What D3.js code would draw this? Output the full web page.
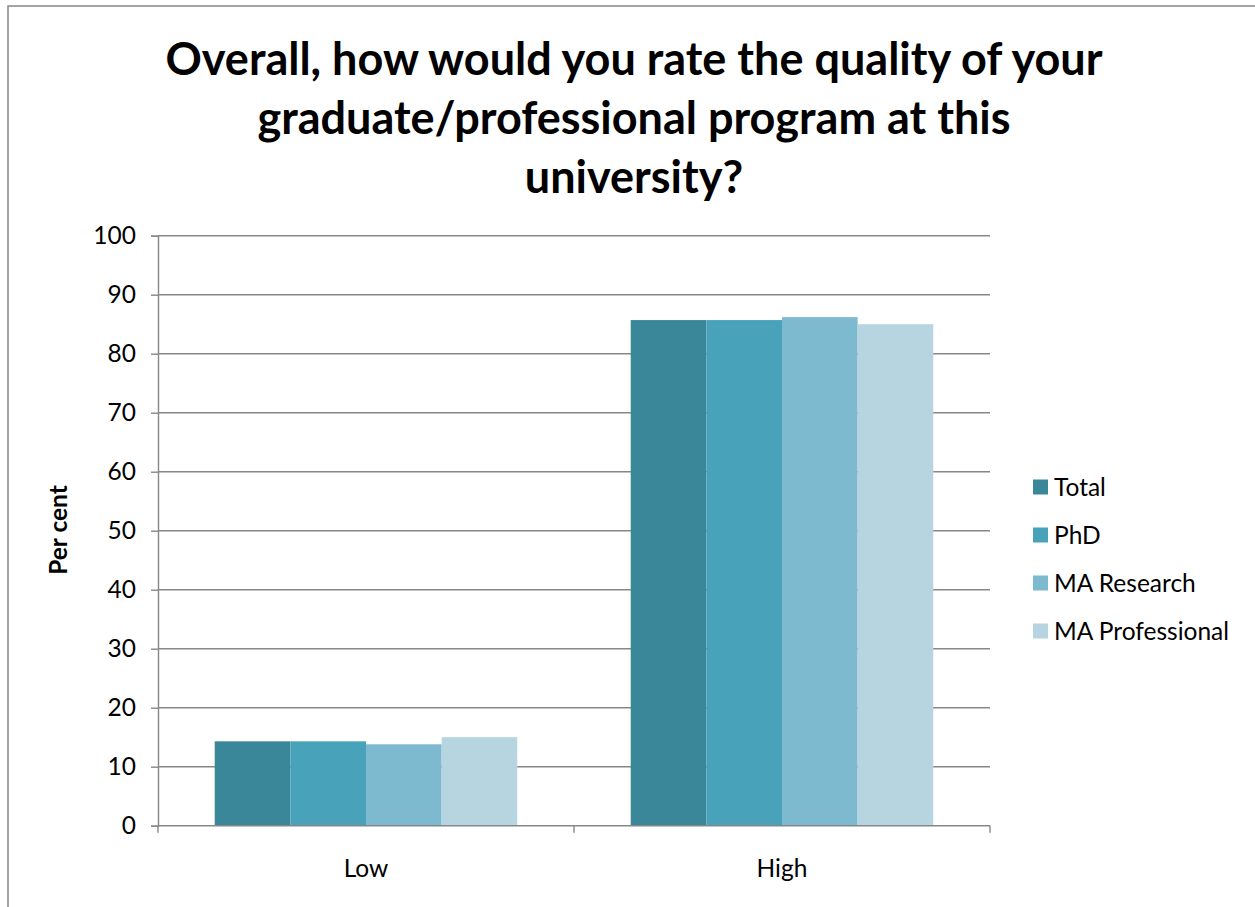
<!DOCTYPE html>
<html>
<head>
<meta charset="utf-8">
<script src="https://cdn.jsdelivr.net/npm/d3@7"></script>
<style>
  html, body { margin: 0; padding: 0; background: #fff; }
  svg { display: block; }
  text { font-family: Lato, "Noto Sans", sans-serif; fill: #000; }
</style>
</head>
<body>
<svg id="chart" width="1255" height="907"></svg>
<script>
// Survey result: rating of graduate/professional program quality
const categories = ["Low", "High"];
const seriesNames = ["Total", "PhD", "MA Research", "MA Professional"];
const totalValues = [14.3, 85.7];
const phdValues = [14.3, 85.7];
const maResearchValues = [13.8, 86.2];
const maProfessionalValues = [15.0, 85.0];
const yTicks = [0, 10, 20, 30, 40, 50, 60, 70, 80, 90, 100];
const titleLines = [
  "Overall, how would you rate the quality of your",
  "graduate/professional program at this",
  "university?"
];
const colors = ["#398799", "#48a2ba", "#7dbad0", "#b6d5e1"];

const seriesValues = [totalValues, phdValues, maResearchValues, maProfessionalValues];

const svg = d3.select("#chart");
const W = 1255, H = 907;
const plot = { left: 158, right: 990, top: 235.7, bottom: 825.7 };
const gridColor = "#878787";
const labelSize = 24.5;

// Outer chart frame
svg.append("rect")
  .attr("x", 8).attr("y", 6)
  .attr("width", W + 10).attr("height", H + 10)
  .attr("fill", "#fff")
  .attr("stroke", gridColor).attr("stroke-width", 1.5);

// Title
svg.append("g").selectAll("text")
  .data(titleLines)
  .join("text")
  .attr("x", 634)
  .attr("y", (d, i) => 75 + i * 59)
  .attr("text-anchor", "middle")
  .attr("font-size", 45)
  .attr("font-weight", "bold")
  .text(d => d);

// Scales
const y = d3.scaleLinear().domain([0, 100]).range([plot.bottom, plot.top]);
const x0 = d3.scaleBand().domain(categories).range([plot.left, plot.right]).padding(0);
const x1 = d3.scaleBand().domain(seriesNames).range([0, x0.bandwidth()])
  .paddingInner(0).paddingOuter(0.75);

// Horizontal gridlines
svg.append("g").selectAll("line")
  .data(yTicks.filter(t => t > 0))
  .join("line")
  .attr("x1", plot.left).attr("x2", plot.right)
  .attr("y1", d => y(d)).attr("y2", d => y(d))
  .attr("stroke", gridColor).attr("stroke-width", 1.4);

// Bars
const groups = svg.append("g").selectAll("g")
  .data(categories)
  .join("g")
  .attr("transform", c => `translate(${x0(c)},0)`);

groups.selectAll("rect")
  .data((c, ci) => seriesNames.map((s, si) => ({ s, si, v: seriesValues[si][ci] })))
  .join("rect")
  .attr("x", d => x1(d.s))
  .attr("width", x1.bandwidth())
  .attr("y", d => y(d.v))
  .attr("height", d => y(0) - y(d.v))
  .attr("fill", d => colors[d.si]);

// Y axis
const yAxis = d3.axisLeft(y).tickValues(yTicks).tickSize(7).tickPadding(15).tickFormat(d3.format("d"));
const yg = svg.append("g").attr("transform", `translate(${plot.left},0)`).call(yAxis);
yg.select(".domain").attr("stroke", gridColor).attr("stroke-width", 1.4);
yg.selectAll(".tick line").attr("stroke", gridColor).attr("stroke-width", 1.4);
yg.selectAll(".tick text")
  .attr("font-size", labelSize)
  .attr("font-family", "Lato, 'Noto Sans', sans-serif")
  .attr("fill", "#000");

// X axis with boundary ticks between categories
const xg = svg.append("g").attr("transform", `translate(0,${plot.bottom})`);
xg.append("line")
  .attr("x1", plot.left).attr("x2", plot.right)
  .attr("stroke", gridColor).attr("stroke-width", 1.4);
const boundaries = categories.map(c => x0(c)).concat([x0(categories[categories.length - 1]) + x0.bandwidth()]);
xg.selectAll("line.b")
  .data(boundaries)
  .join("line")
  .attr("class", "b")
  .attr("x1", d => d).attr("x2", d => d)
  .attr("y1", 0).attr("y2", 7)
  .attr("stroke", gridColor).attr("stroke-width", 1.4);
xg.selectAll("text")
  .data(categories)
  .join("text")
  .attr("x", c => x0(c) + x0.bandwidth() / 2)
  .attr("y", 51)
  .attr("text-anchor", "middle")
  .attr("font-size", labelSize)
  .text(c => c);

// Y axis title
svg.append("text")
  .attr("transform", `translate(67,530) rotate(-90)`)
  .attr("text-anchor", "middle")
  .attr("font-size", labelSize)
  .attr("font-weight", "bold")
  .text("Per cent");

// Legend
const legend = svg.append("g").selectAll("g")
  .data(seriesNames)
  .join("g")
  .attr("transform", (d, i) => `translate(1033,${487 + i * 48})`);
legend.append("rect")
  .attr("x", 0).attr("y", -7.5)
  .attr("width", 15).attr("height", 15)
  .attr("fill", (d, i) => colors[i]);
legend.append("text")
  .attr("x", 21).attr("y", 0)
  .attr("dy", "0.35em")
  .attr("font-size", labelSize)
  .text(d => d);
</script>
</body>
</html>
